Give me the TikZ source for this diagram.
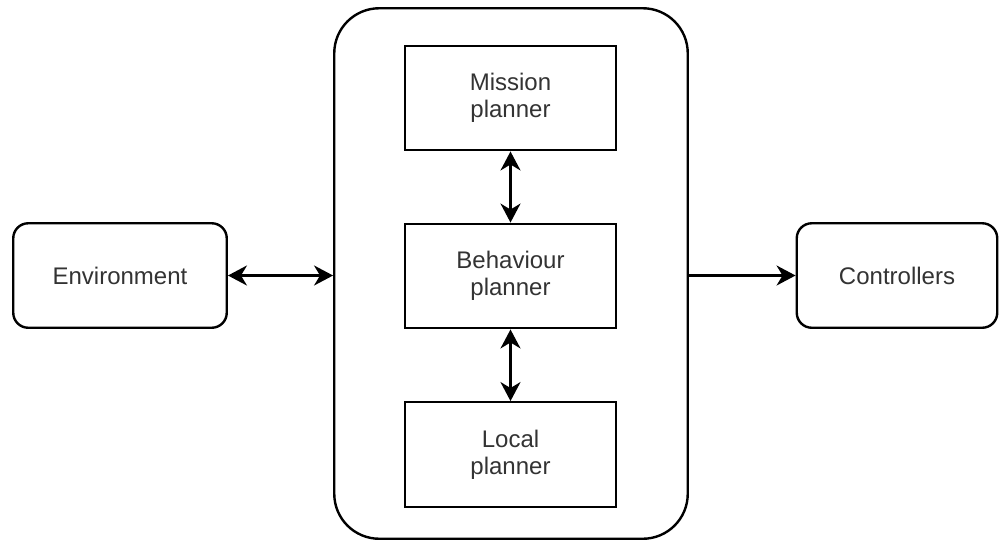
\documentclass[tikz,border=0pt]{standalone}
\usepackage{fontspec}
\setmainfont{Liberation Sans}
\usetikzlibrary{arrows.meta}

\begin{document}
\begin{tikzpicture}[x=1pt,y=-1pt]
    % Define colours
    \definecolor{borderColour}{HTML}{000000}
    \definecolor{textColour}{HTML}{333333}

    % Define styles
    \tikzset{
        block/.style={draw=borderColour, line width=2.4pt, fill=white, text=textColour,
            align=center, inner sep=0pt, minimum height=104.5pt,
            font=\fontsize{24}{27}\selectfont},
        softBlock/.style={block, rounded corners=15pt},
        biArrow/.style={line width=2.4pt, {Stealth[length=19pt,width=20pt,inset=6pt]}-{Stealth[length=19pt,width=20pt,inset=6pt]}},
        oneArrow/.style={line width=2.4pt, -{Stealth[length=19pt,width=20pt,inset=6pt]}}
    }

    % Fix the page size
    \useasboundingbox (0,0) rectangle (1000,542);

    % Draw the planning system
    \node[draw=borderColour, line width=2.4pt, rounded corners=45pt,
        minimum width=353.5pt, minimum height=530.5pt] (system) at (511,273.5) {};

    % Draw the planners
    \node[block, minimum width=211.5pt] (mission) at (510.5,98) {Mission\\planner};
    \node[block, minimum width=211.5pt] (behaviour) at (510.5,276) {Behaviour\\planner};
    \node[block, minimum width=211.5pt] (local) at (510.5,454.5) {Local\\planner};

    % Draw the outer blocks
    \node[softBlock, minimum width=213.5pt] (environment) at (120,275.5) {Environment};
    \node[softBlock, minimum width=200.5pt] (controllers) at (897,275.5) {Controllers};

    % Draw the connectors
    \draw[biArrow] (environment.east) -- (environment.east -| system.west);
    \draw[oneArrow] (system.east |- controllers.west) -- (controllers.west);
    \draw[biArrow] (mission.south) -- (behaviour.north);
    \draw[biArrow] (behaviour.south) -- (local.north);

\end{tikzpicture}
\end{document}
